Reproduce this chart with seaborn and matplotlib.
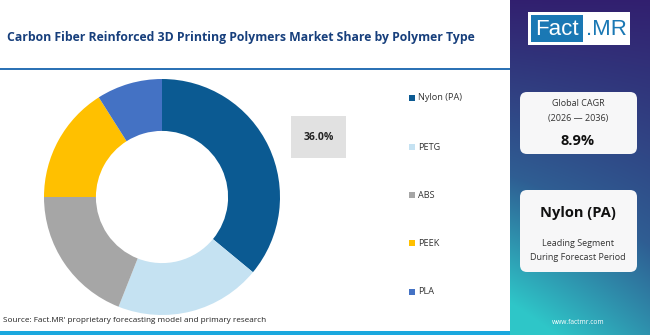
import numpy as np
import matplotlib
matplotlib.use("Agg")
import matplotlib.pyplot as plt
from matplotlib.patches import Rectangle, FancyBboxPatch
import seaborn as sns

# ---- data ----
categories = ["Nylon (PA)", "PETG", "ABS", "PEEK", "PLA"]
shares = [36.0, 20.0, 19.0, 16.0, 9.0]
colors = ["#0B5A92", "#C5E2F2", "#A6A6A6", "#FFC000", "#4472C4"]
title = "Carbon Fiber Reinforced 3D Printing Polymers Market Share by Polymer Type"
source = "Source: Fact.MR' proprietary forecasting model and primary research"
cagr_label = ["Global CAGR", "(2026 \u2014 2036)"]
cagr_value = "8.9%"
leading = "Nylon (PA)"
leading_sub = ["Leading Segment", "During Forecast Period"]

sns.set_theme(style="white")
plt.rcParams["font.family"] = ["Open Sans", "DejaVu Sans"]

W, H = 650, 335
fig = plt.figure(figsize=(W / 100, H / 100), dpi=100)
fig.patch.set_facecolor("white")

def fx(x): return x / W
def fy(y): return 1 - y / H

# background overlay axes in pixel coords
bg = fig.add_axes([0, 0, 1, 1])
bg.set_xlim(0, W)
bg.set_ylim(H, 0)
bg.axis("off")

# title
bg.text(7, 37, title, fontsize=8.85, fontweight="bold", color="#173F7C", va="center", ha="left")
# line under title
bg.add_patch(Rectangle((0, 68), 510, 2.2, color="#2C72B5", lw=0))
# bottom bar
bg.add_patch(Rectangle((0, 331), 510, 4, color="#1BA8DE", lw=0))
# source
bg.text(3, 321, source, fontsize=5.85, color="#222222", va="center", ha="left")

# right panel gradient
gx = np.linspace(0, 1, 140)
gy = np.linspace(0, 1, 335)
X, Y = np.meshgrid(gx, gy)
t = np.clip(0.75 * Y + 0.3 * (1 - X) * Y + 0.05, 0, 1)
top = np.array([0x32, 0x1A, 0x6C]) / 255
mid = np.array([0x2F, 0x5E, 0x93]) / 255
bot = np.array([0x2E, 0xC6, 0xC8]) / 255
img = np.zeros((335, 140, 3))
for c in range(3):
    img[..., c] = np.where(t < 0.6, top[c] + (mid[c] - top[c]) * (t / 0.6),
                           mid[c] + (bot[c] - mid[c]) * ((t - 0.6) / 0.4))
bg.imshow(img, extent=(510, 650, 335, 0), aspect="auto", zorder=1)
bg.set_xlim(0, W)
bg.set_ylim(H, 0)

# logo
bg.add_patch(Rectangle((528, 12), 102, 33, color="white", lw=0, zorder=2))
bg.add_patch(Rectangle((531, 15), 52, 27, color="#1A78B4", lw=0, zorder=3))
bg.text(557, 29.5, "Fact", fontsize=16, color="white", ha="center", va="center", zorder=4,
        family=["Liberation Sans Narrow", "Liberation Sans", "DejaVu Sans"])
bg.text(606, 29.5, ".MR", fontsize=16, color="#1A78B4", ha="center", va="center", zorder=4,
        family=["Liberation Sans Narrow", "Liberation Sans", "DejaVu Sans"])

# CAGR box
bg.add_patch(FancyBboxPatch((520, 92), 117, 62, boxstyle="round,pad=0,rounding_size=7",
                            fc="#F7F7F8", ec="none", zorder=2))
bg.text(578, 103, cagr_label[0], fontsize=6.5, color="#333333", ha="center", va="center", zorder=3)
bg.text(578, 118, cagr_label[1], fontsize=6.5, color="#333333", ha="center", va="center", zorder=3)
bg.text(578, 141, cagr_value, fontsize=10.5, fontweight="bold", color="#111111", ha="center", va="center", zorder=3)

# leading segment box
bg.add_patch(FancyBboxPatch((520, 190), 117, 82, boxstyle="round,pad=0,rounding_size=7",
                            fc="#F7F7F8", ec="none", zorder=2))
bg.text(578, 213, leading, fontsize=10.5, fontweight="bold", color="#111111", ha="center", va="center", zorder=3)
bg.text(578, 244, leading_sub[0], fontsize=6.5, color="#333333", ha="center", va="center", zorder=3)
bg.text(578, 257, leading_sub[1], fontsize=6.5, color="#333333", ha="center", va="center", zorder=3)

bg.text(578, 323, "www.factmr.com", fontsize=4.8, color="white", ha="center", va="center", zorder=3)

# value label box
bg.add_patch(Rectangle((291, 116), 55, 42, color="#E1E1E1", lw=0))
bg.text(318.5, 137, f"{shares[0]:.1f}%", fontsize=7.5, fontweight="bold", color="#222222",
        ha="center", va="center")

# legend
leg_y = [98, 147, 195, 243, 292]
for cat, col, yy in zip(categories, colors, leg_y):
    bg.add_patch(Rectangle((409, yy - 2.7), 5.5, 5.5, color=col, lw=0))
    bg.text(418, yy, cat, fontsize=6.6, color="#333333", ha="left", va="center")

# donut
cx, cy, r = 162, 197, 118
ax = fig.add_axes([fx(cx - r), fy(cy + r), 2 * r / W, 2 * r / H])
ax.pie(shares, colors=colors, startangle=90, counterclock=False, radius=1,
       wedgeprops=dict(width=0.44, edgecolor="none"))
ax.set_xlim(-1, 1)
ax.set_ylim(-1, 1)
ax.set_aspect("auto")
ax.axis("off")

fig.savefig("out.png", dpi=100)
